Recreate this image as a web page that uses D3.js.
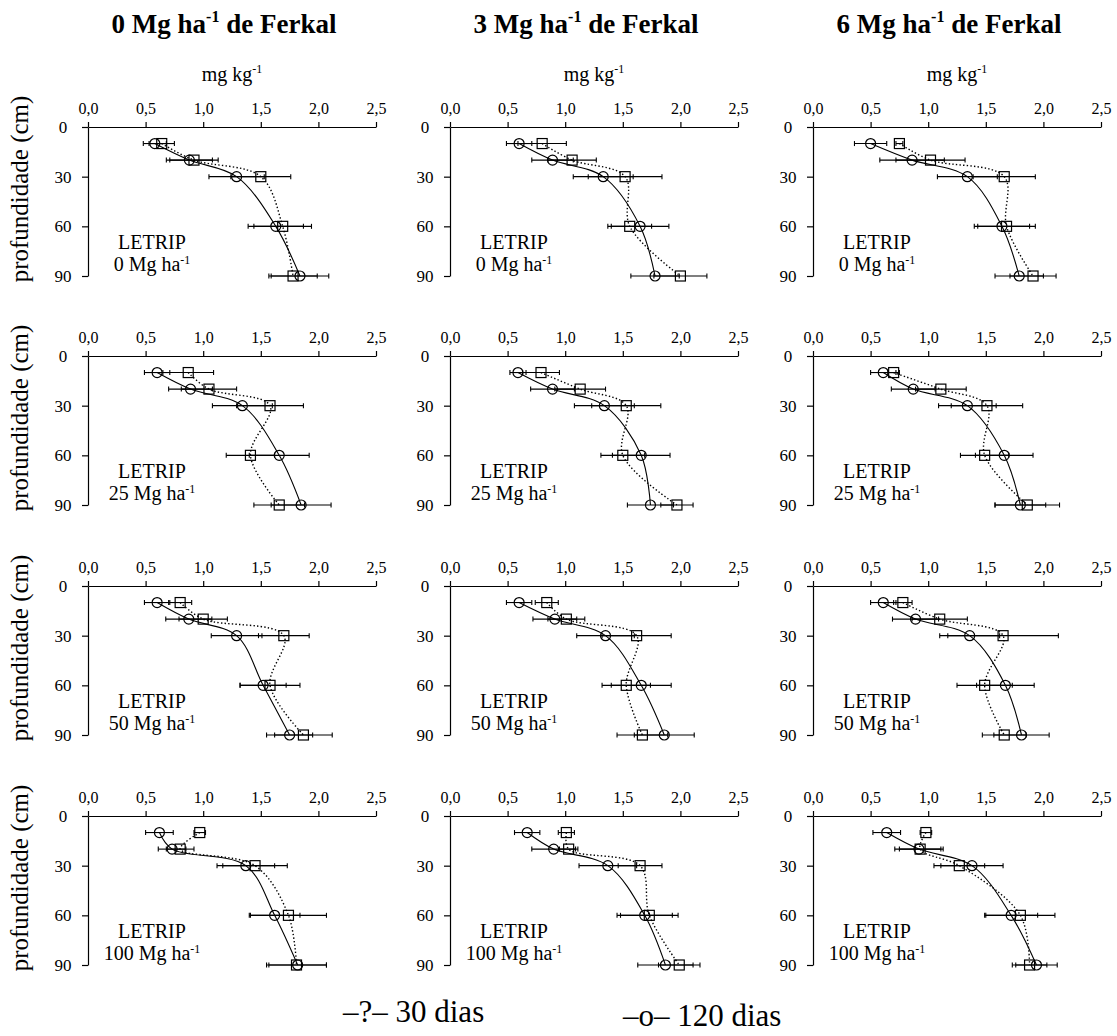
<!DOCTYPE html>
<html>
<head>
<meta charset="utf-8">
<script src="https://cdn.jsdelivr.net/npm/d3@7"></script>
<style>
  body { margin: 0; background: #fff; }
  svg text { font-family: "Liberation Serif", Tinos, "Times New Roman", "DejaVu Serif", serif !important; fill: #000; }
</style>
</head>
<body>
<div id="chart"></div>
<script>
// profundidades amostradas (cm)
var depths = [10, 20, 30, 60, 90];
var ferkalDoses = ["0", "3", "6"];
var letripDoses = ["0", "25", "50", "100"];
var xTicks = [0, 0.5, 1, 1.5, 2, 2.5];
var yTicks = [0, 30, 60, 90];

// 30 dias (quadrados) - linha a linha: LETRIP 0, 25, 50, 100 ; colunas Ferkal 0, 3, 6
var dias30 = [
  [0.64, 0.92, 1.50, 1.69, 1.78], [0.80, 1.06, 1.52, 1.56, 2.00], [0.75, 1.02, 1.66, 1.68, 1.91],
  [0.87, 1.05, 1.58, 1.41, 1.66], [0.79, 1.13, 1.53, 1.50, 1.97], [0.70, 1.11, 1.51, 1.49, 1.86],
  [0.80, 1.00, 1.70, 1.58, 1.87], [0.84, 1.01, 1.62, 1.53, 1.67], [0.78, 1.10, 1.65, 1.49, 1.66],
  [0.97, 0.80, 1.45, 1.74, 1.81], [1.01, 1.03, 1.65, 1.73, 1.99], [0.98, 0.93, 1.27, 1.80, 1.88]
];
var err30 = [
  [0.11, 0.21, 0.26, 0.25, 0.21], [0.21, 0.21, 0.32, 0.19, 0.23], [0.03, 0.30, 0.27, 0.25, 0.20],
  [0.22, 0.24, 0.29, 0.21, 0.22], [0.16, 0.22, 0.30, 0.19, 0.14], [0.05, 0.22, 0.31, 0.21, 0.28],
  [0.10, 0.21, 0.22, 0.26, 0.25], [0.10, 0.16, 0.30, 0.21, 0.22], [0.08, 0.24, 0.48, 0.24, 0.19],
  [0.05, 0.12, 0.28, 0.33, 0.26], [0.07, 0.08, 0.19, 0.25, 0.18], [0.05, 0.18, 0.22, 0.30, 0.15]
];

// 120 dias (circulos)
var dias120 = [
  [0.58, 0.88, 1.29, 1.63, 1.84], [0.60, 0.89, 1.33, 1.65, 1.78], [0.50, 0.86, 1.34, 1.64, 1.79],
  [0.60, 0.89, 1.34, 1.66, 1.85], [0.59, 0.89, 1.34, 1.66, 1.74], [0.61, 0.87, 1.34, 1.66, 1.80],
  [0.60, 0.875, 1.29, 1.52, 1.75], [0.60, 0.91, 1.35, 1.66, 1.86], [0.61, 0.89, 1.36, 1.67, 1.81],
  [0.62, 0.73, 1.37, 1.62, 1.82], [0.67, 0.90, 1.37, 1.69, 1.87], [0.64, 0.92, 1.38, 1.72, 1.94]
];
var err120 = [
  [0.10, 0.20, 0.24, 0.24, 0.25], [0.11, 0.18, 0.26, 0.25, 0.21], [0.14, 0.28, 0.26, 0.24, 0.21],
  [0.11, 0.19, 0.26, 0.26, 0.26], [0.07, 0.19, 0.26, 0.25, 0.20], [0.11, 0.19, 0.25, 0.25, 0.22],
  [0.11, 0.20, 0.22, 0.20, 0.20], [0.11, 0.19, 0.25, 0.26, 0.26], [0.11, 0.20, 0.26, 0.25, 0.24],
  [0.12, 0.12, 0.25, 0.22, 0.25], [0.11, 0.19, 0.25, 0.24, 0.24], [0.12, 0.21, 0.27, 0.23, 0.18]
];

var width = 1117, height = 1036;
var colX = [88, 450, 813];
var rowY = [127, 356, 586, 816];
var plotW = 288, plotH = 149;

var svg = d3.select("#chart").append("svg")
    .attr("width", width)
    .attr("height", height);

var xScale = d3.scaleLinear().domain([0, 2.5]).range([0, plotW]);
var yScale = d3.scaleLinear().domain([0, 90]).range([0, plotH]);
var fmt = d3.formatLocale({ decimal: ",", thousands: ".", grouping: [3], currency: ["", ""] }).format(".1f");

var line = d3.line()
    .x(d => xScale(d.v))
    .y(d => yScale(d.p))
    .curve(d3.curveCatmullRom.alpha(0.5));

// titulos das colunas
ferkalDoses.forEach(function(dose, c) {
    var t = svg.append("text")
        .attr("x", colX[c] + plotW / 2 - 8)
        .attr("y", 33)
        .attr("text-anchor", "middle")
        .attr("font-size", 27)
        .attr("font-weight", "bold");
    t.append("tspan").text(dose + " Mg ha");
    t.append("tspan").attr("font-size", 16).attr("dy", -11).text("-1");
    t.append("tspan").attr("dy", 11).text(" de Ferkal");

    var u = svg.append("text")
        .attr("x", colX[c] + plotW / 2)
        .attr("y", 81)
        .attr("text-anchor", "middle")
        .attr("font-size", 20);
    u.append("tspan").text("mg kg");
    u.append("tspan").attr("font-size", 12).attr("dy", -8).text("-1");
});

letripDoses.forEach(function(ldose, r) {
    // rotulo do eixo y
    svg.append("text")
        .attr("transform", "translate(28," + (rowY[r] + 62) + ") rotate(-90)")
        .attr("text-anchor", "middle")
        .attr("font-size", 25)
        .text("profundidade (cm)");

    ferkalDoses.forEach(function(fdose, c) {
        var k = r * 3 + c;
        var g = svg.append("g")
            .attr("transform", "translate(" + colX[c] + "," + rowY[r] + ")");

        // eixo x no topo
        var gx = g.append("g")
            .call(d3.axisTop(xScale).tickValues(xTicks).tickFormat(fmt).tickSize(5).tickSizeOuter(0));
        gx.selectAll("text").attr("font-size", 16).attr("y", -13);
        gx.selectAll("line, path").attr("stroke", "#000").attr("stroke-width", 1.2);

        // eixo y
        var gy = g.append("g")
            .call(d3.axisLeft(yScale).tickValues(yTicks).tickSize(6).tickSizeOuter(0));
        gy.selectAll("text").attr("font-size", 17).attr("text-anchor", "middle").attr("x", -25);
        gy.selectAll("line, path").attr("stroke", "#000").attr("stroke-width", 1.2);

        var s30 = depths.map((p, i) => ({ p: p, v: dias30[k][i], e: err30[k][i] }));
        var s120 = depths.map((p, i) => ({ p: p, v: dias120[k][i], e: err120[k][i] }));

        g.append("path").datum(s30)
            .attr("d", line)
            .attr("fill", "none")
            .attr("stroke", "#000")
            .attr("stroke-width", 1.4)
            .attr("stroke-dasharray", "1.4,2.2");
        g.append("path").datum(s120)
            .attr("d", line)
            .attr("fill", "none")
            .attr("stroke", "#000")
            .attr("stroke-width", 1.1);

        // barras de erro
        [s30, s120].forEach(function(s) {
            var eb = g.append("g").selectAll("g").data(s).enter().append("g")
                .attr("stroke", "#000").attr("stroke-width", 1.1);
            eb.append("line")
                .attr("x1", d => xScale(d.v - d.e)).attr("x2", d => xScale(d.v + d.e))
                .attr("y1", d => yScale(d.p)).attr("y2", d => yScale(d.p));
            eb.append("line")
                .attr("x1", d => xScale(d.v - d.e)).attr("x2", d => xScale(d.v - d.e))
                .attr("y1", d => yScale(d.p) - 2.5).attr("y2", d => yScale(d.p) + 2.5);
            eb.append("line")
                .attr("x1", d => xScale(d.v + d.e)).attr("x2", d => xScale(d.v + d.e))
                .attr("y1", d => yScale(d.p) - 2.5).attr("y2", d => yScale(d.p) + 2.5);
        });

        g.selectAll(".sq").data(s30).enter().append("rect")
            .attr("x", d => xScale(d.v) - 5).attr("y", d => yScale(d.p) - 5)
            .attr("width", 10).attr("height", 10)
            .attr("fill", "none").attr("stroke", "#000").attr("stroke-width", 1.2);
        g.selectAll(".ci").data(s120).enter().append("circle")
            .attr("cx", d => xScale(d.v)).attr("cy", d => yScale(d.p))
            .attr("r", 5)
            .attr("fill", "none").attr("stroke", "#000").attr("stroke-width", 1.2);

        // rotulo LETRIP
        g.append("text")
            .attr("x", 64).attr("y", 122)
            .attr("text-anchor", "middle").attr("font-size", 20)
            .text("LETRIP");
        var lt = g.append("text")
            .attr("x", 64).attr("y", 144)
            .attr("text-anchor", "middle").attr("font-size", 20);
        lt.append("tspan").text(ldose + " Mg ha");
        lt.append("tspan").attr("font-size", 12).attr("dy", -7).text("-1");
    });
});

// legenda
svg.append("text").attr("x", 343).attr("y", 1022).attr("font-size", 31).text("\u2013?\u2013 30 dias");
svg.append("text").attr("x", 623).attr("y", 1026).attr("font-size", 31).text("\u2013o\u2013 120 dias");
</script>
</body>
</html>
